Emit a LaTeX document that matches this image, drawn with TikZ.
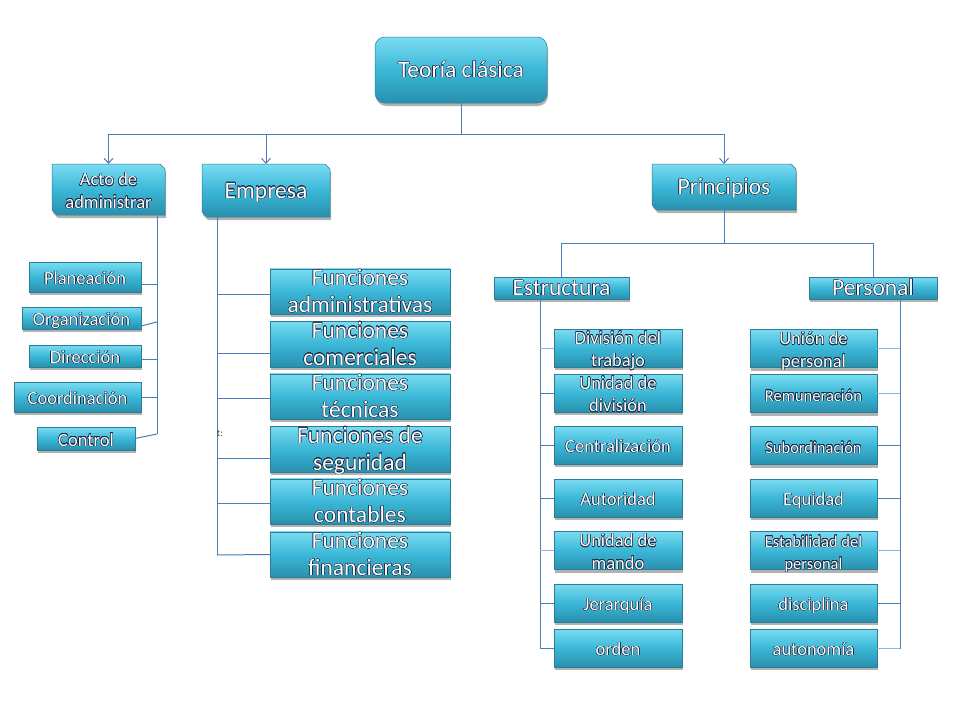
\documentclass[tikz,border=0pt]{standalone}
\usepackage{fontspec}
\setmainfont{Carlito}
\usepackage{contour}
\contourlength{0.45pt}
\usetikzlibrary{shapes.misc,shadows,arrows.meta}
\definecolor{lnc}{HTML}{4A7EBB}
\definecolor{lnl}{HTML}{95B3D7}
\definecolor{bxt}{HTML}{7ADCF2}
\definecolor{bxm}{HTML}{3BB7D7}
\definecolor{bxb}{HTML}{2890AD}
\definecolor{bxd}{HTML}{2A7F98}
\definecolor{outl}{HTML}{1B2A44}
\definecolor{tmk}{HTML}{5A4A10}
\newcommand\ta[1]{\raisebox{-7.5pt}[0pt][0pt]{\contour{outl}{#1}}}
\newcommand\tb[2]{\raisebox{\dimexpr0.5\baselineskip-7.5pt\relax}[0pt][0pt]{\begin{tabular}[t]{@{}c@{}}\contour{outl}{#1}\\\contour{outl}{#2}\end{tabular}}}
\begin{document}
\begin{tikzpicture}[x=1pt,y=-1pt,
  ln/.style={draw=lnc, line width=1pt},
  lnlt/.style={draw=lnl, line width=1pt},
  arr/.style={ln, -{Straight Barb[length=5pt,width=9pt]}},
  box/.style={draw=bxd, line width=0.5pt, top color=bxt, bottom color=bxb, middle color=bxm,
    drop shadow={shadow xshift=1pt,shadow yshift=-3pt,opacity=0.3,fill=black},
    text=white, inner sep=0pt, outer sep=0pt},
  mainbox/.style={box, rounded corners=10pt},
  snip/.style={box, chamfered rectangle, chamfered rectangle corners={north east,south west},
    chamfered rectangle xsep=5pt, chamfered rectangle ysep=5pt},
  fbig/.style={font=\fontsize{23.5}{27}\selectfont},
  fsmall/.style={font=\fontsize{18.5}{22.5}\selectfont},
  fless/.style={font=\fontsize{16.5}{22}\selectfont},
  ]
\fill[white] (0,0) rectangle (960,720);
\useasboundingbox (0,0) rectangle (960,720);

% top level
\node[mainbox,fbig,minimum width=172pt,minimum height=66pt] (main) at (461,70) {\ta{Teoría clásica}};
\node[snip,fsmall,minimum width=113pt,minimum height=51pt] (acto) at (108.5,189.5) {\tb{Acto de}{administrar}};
\node[snip,fbig,minimum width=128pt,minimum height=53pt] (empresa) at (266,190.5) {\ta{Empresa}};
\node[snip,fbig,minimum width=144pt,minimum height=46pt] (princ) at (724,187) {\ta{Principios}};

% acto children
\node[box,fsmall,minimum width=112pt,minimum height=30pt] (plan) at (85,277) {\ta{Planeación}};
\node[box,fsmall,minimum width=119pt,minimum height=22pt] (org) at (81.5,318) {\ta{Organización}};
\node[box,fsmall,minimum width=112pt,minimum height=22pt] (dir) at (85,356) {\ta{Dirección}};
\node[box,fsmall,minimum width=127pt,minimum height=30pt] (coord) at (77.5,397) {\ta{Coordinación}};
\node[box,fsmall,minimum width=98pt,minimum height=23pt] (ctrl) at (86,438.5) {\ta{Control}};

% empresa children
\node[box,fbig,minimum width=180pt,minimum height=45.5pt] (f1) at (360,291.5) {\tb{Funciones}{administrativas}};
\node[box,fbig,minimum width=180pt,minimum height=45.5pt] (f2) at (360,344) {\tb{Funciones}{comerciales}};
\node[box,fbig,minimum width=180pt,minimum height=45.5pt] (f3) at (360,396.5) {\tb{Funciones}{técnicas}};
\node[box,fbig,minimum width=180pt,minimum height=45.5pt] (f4) at (360,449) {\tb{Funciones de}{seguridad}};
\node[box,fbig,minimum width=180pt,minimum height=45.5pt] (f5) at (360,501.5) {\tb{Funciones}{contables}};
\node[box,fbig,minimum width=180pt,minimum height=45.5pt] (f6) at (360,554.5) {\tb{Funciones}{financieras}};

% principios children
\node[box,fbig,minimum width=135pt,minimum height=22pt] (est) at (561.5,288) {\ta{Estructura}};
\node[box,fbig,minimum width=128pt,minimum height=22pt] (pers) at (873,288) {\ta{Personal}};

\node[box,fsmall,minimum width=128pt,minimum height=38pt] (s1) at (618,348) {\tb{División del}{trabajo}};
\node[box,fsmall,minimum width=128pt,minimum height=38pt] (s2) at (618,393) {\tb{Unidad de}{división}};
\node[box,fsmall,minimum width=128pt,minimum height=38pt] (s3) at (618,445) {\ta{Centralización}};
\node[box,fsmall,minimum width=128pt,minimum height=38pt] (s4) at (618,498) {\ta{Autoridad}};
\node[box,fsmall,minimum width=128pt,minimum height=38pt] (s5) at (618,550.5) {\tb{Unidad de}{mando}};
\node[box,fsmall,minimum width=128pt,minimum height=38pt] (s6) at (618,603) {\ta{Jerarquía}};
\node[box,fsmall,minimum width=128pt,minimum height=38pt] (s7) at (618,648) {\ta{orden}};

\node[box,fsmall,minimum width=127pt,minimum height=38pt] (p1) at (813.5,348.5) {\tb{Unión de}{personal}};
\node[box,fless,minimum width=127pt,minimum height=38pt] (p2) at (813.5,393.5) {\ta{Remuneración}};
\node[box,fless,minimum width=127pt,minimum height=38pt] (p3) at (813.5,445.5) {\ta{Subordinación}};
\node[box,fsmall,minimum width=127pt,minimum height=38pt] (p4) at (813.5,498) {\ta{Equidad}};
\node[box,fless,minimum width=127pt,minimum height=38pt] (p5) at (813.5,550.5) {\tb{Estabilidad del}{personal}};
\node[box,fsmall,minimum width=127pt,minimum height=38pt] (p6) at (813.5,603) {\ta{disciplina}};
\node[box,fsmall,minimum width=127pt,minimum height=38pt] (p7) at (813.5,648) {\ta{autonomía}};

% trunk ends
\coordinate (aB) at (157,434);
\coordinate (eB) at (217,555);
\coordinate (sB) at (540,649);
\coordinate (pB) at (900,649);

% connectors from main
\draw[arr] (main.south) -- ++(0,31) -| (acto.north);
\draw[arr] (main.south) -- ++(0,31) -| (empresa.north);
\draw[arr] (main.south) -- ++(0,31) -| (princ.north);

% acto
\draw[ln] (acto.south -| aB) -- (aB);
\draw[ln] ([yshift=-7pt]plan.east) -- ++(16,0);
\draw[ln] ([yshift=-8pt]org.east) -- ++(16,-4);
\draw[ln] ([yshift=-3pt]dir.east) -- ++(16,0);
\draw[ln] (coord.east) -- ++(16,0);
\draw[ln] (ctrl.east) -- (aB);

% empresa
\draw[ln] (empresa.south -| eB) -- (eB);
\draw[ln] ([yshift=-2.5pt]f1.west) -- ++(-53,0);
\draw[ln] ([yshift=-9pt]f2.west) -- ++(-53,0);
\draw[ln] ([yshift=-1.5pt]f3.west) -- ++(-53,0);
\draw[ln] ([yshift=-9pt]f4.west) -- ++(-53,0);
\draw[ln] ([yshift=-1.5pt]f5.west) -- ++(-53,0);
\draw[ln] (f6.west) -- (eB);
\node[font=\fontsize{10}{11}\selectfont, text=tmk, inner sep=0pt] (tmark) at (220,433) {t:};

% principios
\draw[ln] (princ.south) -- ++(0,33) -| (est.north);
\draw[ln] (princ.south) -- ++(0,33) -| (pers.north);

% estructura
\draw[ln] (est.south -| sB) -- (sB);
\draw[lnlt] (s1.west) -- (s1.west -| sB);
\draw[ln] (s2.west) -- (s2.west -| sB);
\draw[ln] (s3.west) -- (s3.west -| sB);
\draw[ln] (s4.west) -- (s4.west -| sB);
\draw[lnlt] (s5.west) -- (s5.west -| sB);
\draw[ln] (s6.west) -- (s6.west -| sB);
\draw[ln] (s7.west) -- (s7.west -| sB);

% personal
\draw[ln] (pers.south -| pB) -- (pB);
\draw[lnlt] (p1.east) -- (p1.east -| pB);
\draw[lnlt] (p2.east) -- (p2.east -| pB);
\draw[ln] (p3.east) -- (p3.east -| pB);
\draw[ln] (p4.east) -- (p4.east -| pB);
\draw[lnlt] (p5.east) -- (p5.east -| pB);
\draw[ln] (p6.east) -- (p6.east -| pB);
\draw[lnlt] (p7.east) -- (p7.east -| pB);
\end{tikzpicture}
\end{document}
